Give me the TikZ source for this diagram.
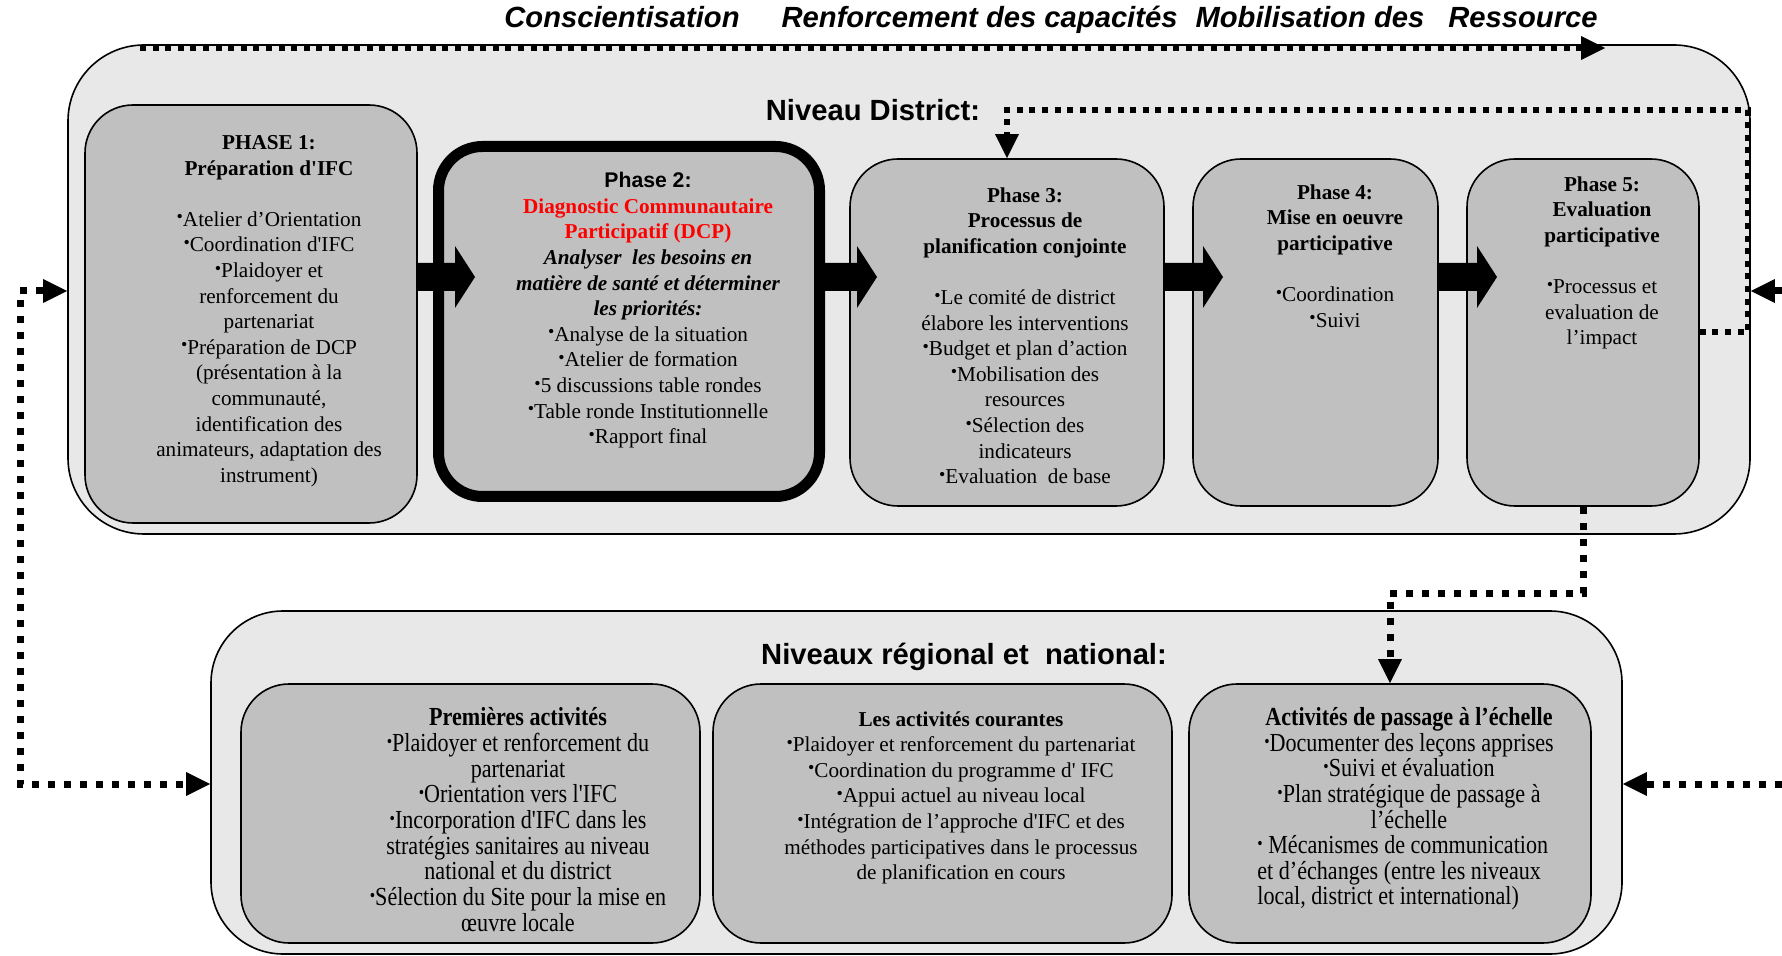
\documentclass[tikz,border=0pt]{standalone}
\usepackage{fontspec}
\setmainfont{Liberation Serif}[Ligatures=TeXOff]
\setsansfont{Liberation Sans}[Ligatures=TeXOff]
\usepackage{graphicx}
\usetikzlibrary{arrows.meta,fit,calc}
\definecolor{outerfill}{HTML}{E8E8E8}
\definecolor{innerfill}{HTML}{C0C0C0}
\newcommand\bl{\raisebox{0.35ex}{\fontsize{9}{9}\selectfont •}}
\newcommand\blkarrow[2]{\fill ($(#1)+(0,-14)$) -- ($(#2)+(-20,-14)$) -- ($(#2)+(-20,-31)$) -- (#2) -- ($(#2)+(-20,31)$) -- ($(#2)+(-20,14)$) -- ($(#1)+(0,14)$) -- cycle;}
\begin{document}
\begin{tikzpicture}[x=0.5pt,y=-0.5pt,
 >={Triangle[length=12pt,width=12pt,line width=0pt]},
 outerbox/.style={draw=black,line width=0.8pt,fill=outerfill,rounded corners=38pt,inner sep=0pt},
 phasebox/.style={draw=black,line width=0.8pt,fill=innerfill,rounded corners=24pt,inner sep=0pt},
 dcpbox/.style={draw=black,line width=5.5pt,fill=innerfill,rounded corners=22pt,inner sep=0pt},
 body/.style={font=\fontsize{10.6}{12.8}\selectfont,align=center,inner sep=0pt,anchor=north},
 narrowbody/.style={inner sep=0pt,anchor=north},
 heading/.style={font=\sffamily\bfseries\fontsize{14.6}{17}\selectfont,inner sep=0pt},
 dotline/.style={line width=3.5pt,dash pattern=on 3.5pt off 4.5pt},
 fineline/.style={line width=3pt,dash pattern=on 3pt off 3.3pt},
]
\useasboundingbox (0,0) rectangle (1782,956);

% containers
\node[outerbox,fit={(68,45) (1750,534)}] (district) {};
\node[outerbox,rounded corners=36pt,fit={(211,611) (1622,954)}] (national) {};

% title
\node[font=\sffamily\bfseries\itshape\fontsize{14.6}{17}\selectfont,inner sep=0pt] (title) at (1051,20)
 {Conscientisation\hspace{21pt}Renforcement des capacités\hspace{9pt}Mobilisation des\hspace{12pt}Ressource};

% headings
\node[heading] (hd) at (873,110) {Niveau District:};
\node[heading] (hn) at (964,657) {Niveaux régional et\ \ national:};

% phase boxes
\node[phasebox,fit={(85,105) (417,523)}] (p1) {};
\node[dcpbox,fit={(438.5,146.5) (819.5,496.5)}] (p2) {};
\node[phasebox,fit={(850,159) (1164,506)}] (p3) {};
\node[phasebox,fit={(1193,159) (1438,506)}] (p4) {};
\node[phasebox,fit={(1467,159) (1699,506)}] (p5) {};
\node[phasebox,fit={(241,684) (700,943)}] (la) {};
\node[phasebox,fit={(713,684) (1172,943)}] (lb) {};
\node[phasebox,fit={(1189,684) (1591,943)}] (lc) {};

% phase texts
\node[body] (t1) at (269,135) {\textbf{PHASE 1:}\\\textbf{Préparation d'IFC}\\[12.8pt]\bl Atelier d’Orientation\\\bl Coordination d'IFC\\\bl Plaidoyer et\\renforcement du\\partenariat\\\bl Préparation de DCP\\(présentation à la\\communauté,\\identification des\\animateurs, adaptation des\\instrument)};
\node[body] (t2) at (648,172) {{\sffamily\bfseries Phase 2:}\\{\color{red}\bfseries Diagnostic Communautaire}\\{\color{red}\bfseries Participatif (DCP)}\\{\bfseries\itshape Analyser\ \ les besoins en}\\{\bfseries\itshape matière de santé et déterminer}\\{\bfseries\itshape les priorités:}\\\bl Analyse de la situation\\\bl Atelier de formation\\\bl 5 discussions table rondes\\\bl Table ronde Institutionnelle\\\bl Rapport final};
\node[body] (t3) at (1025,187) {\textbf{Phase 3:}\\\textbf{Processus de}\\\textbf{planification conjointe}\\[12.8pt]\bl Le comité de district\\élabore les interventions\\\bl Budget et plan d’action\\\bl Mobilisation des\\resources\\\bl Sélection des\\indicateurs\\\bl Evaluation\ \ de base};
\node[body] (t4) at (1335,184) {\textbf{Phase 4:}\\\textbf{Mise en oeuvre}\\\textbf{participative}\\[12.8pt]\bl Coordination\\\bl Suivi};
\node[body] (t5) at (1602,176) {\textbf{Phase 5:}\\\textbf{Evaluation}\\\textbf{participative}\\[12.8pt]\bl Processus et\\evaluation de\\l’impact};

% lower texts
\node[narrowbody] (tla) at (518,707) {\scalebox{0.85}[1]{\fontsize{13}{12.8}\selectfont\begin{tabular}{@{}c@{}}\textbf{Premières activités}\\\bl Plaidoyer et renforcement du\\partenariat\\\bl Orientation vers l'IFC\\\bl Incorporation d'IFC dans les\\stratégies sanitaires au niveau\\national et du district\\\bl Sélection du Site pour la mise en\\œuvre locale\end{tabular}}};
\node[body] (tlb) at (961,711) {\textbf{Les activités courantes}\\\bl Plaidoyer et renforcement du partenariat\\\bl Coordination du programme d' IFC\\\bl Appui actuel au niveau local\\\bl Intégration de l’approche d'IFC et des\\méthodes participatives dans le processus\\de planification en cours};
\node[narrowbody] (tlc) at (1409,707) {\scalebox{0.85}[1]{\fontsize{13}{12.8}\selectfont\begin{tabular}{@{}c@{}}\textbf{Activités de passage à l’échelle}\\\bl Documenter des leçons apprises\\\bl Suivi et évaluation\\\bl Plan stratégique de passage à\\l’échelle\end{tabular}}};
\node[narrowbody,anchor=north west] (tlc2) at (1257,835) {\scalebox{0.85}[1]{\fontsize{13}{12.8}\selectfont\begin{tabular}{@{}l@{}}\bl\ Mécanismes de communication\\et d’échanges (entre les niveaux\\local, district et international)\end{tabular}}};

% block arrows
\coordinate (ay) at (0,277);
\coordinate (a1s) at (p1.east |- ay); \coordinate (a1t) at (475,277);
\coordinate (a2s) at (p2.east |- ay); \coordinate (a2t) at (877,277);
\coordinate (a3s) at (p3.east |- ay); \coordinate (a3t) at (1223,277);
\coordinate (a4s) at (p4.east |- ay); \coordinate (a4t) at (1497,277);
\blkarrow{a1s}{a1t}
\blkarrow{a2s}{a2t}
\blkarrow{a3s}{a3t}
\blkarrow{a4s}{a4t}

% dotted connectors
\coordinate (tl) at (140,48); \coordinate (tr) at (1605,48);
\draw[fineline,->] (tl) -- (tr);
\coordinate (y332) at (0,332); \coordinate (fb) at (1748,110);
\draw[fineline,->] (p5.east |- y332) -| (fb) -| (p3.north);
\coordinate (yl1) at (0,291); \coordinate (yl2) at (0,784); \coordinate (lx) at (20,784);
\draw[dotline,<->] (district.west |- yl1) -| (lx) -- (national.west |- yl2);
\coordinate (r1) at (1782,291); \coordinate (r2) at (1782,784);
\draw[dotline,->] (r1) -- (district.east |- r1);
\draw[dotline,->] (r2) -- (national.east |- r2);
\coordinate (yb) at (0,593);
\draw[dotline,->] (p5.south) -- (p5.south |- yb) -| (lc.north);
\end{tikzpicture}
\end{document}
